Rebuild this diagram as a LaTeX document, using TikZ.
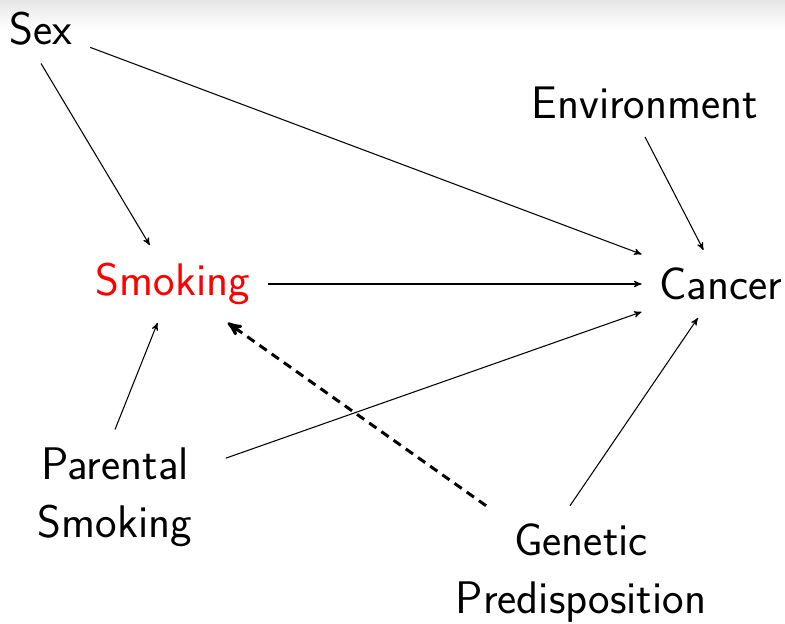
\documentclass[tikz,border=0pt]{standalone}
\usetikzlibrary{positioning,arrows}
\tikzset{
  var/.style={font=\fontsize{26}{33}\selectfont\sffamily, align=center, inner sep=10pt},
  cause/.style={->, >=stealth', line width=0.6pt, draw=black},
  hidden/.style={->, >=stealth', line width=1.7pt, dash pattern=on 5pt off 3.5pt, draw=black}
}

\begin{document}
\begin{tikzpicture}
    \useasboundingbox (0,0) rectangle (15.7,12.48);
    \shade[top color=black!10, bottom color=white] (0,11.9) rectangle (15.7,12.48);
    \node[var] (sex) at (0.82,11.9) {Sex};
    \node[var] (env) at (12.9,10.42) {Environment};
    \node[var, text=red] (smoke) at (3.46,6.8) {Smoking};
    \node[var] (cancer) at (14.42,6.8) {Cancer};
    \node[var, inner xsep=19pt] (parent) at (2.3,2.54) {Parental\\Smoking};
    \node[var] (gene) at (11.62,1.02) {Genetic\\Predisposition};
    \draw[cause] (sex.south) -- (smoke);
    \draw[cause] (sex) -- (cancer);
    \draw[cause] (env.south) -- (cancer);
    \draw[cause] (smoke) -- (cancer);
    \draw[cause] (parent.north) -- (smoke);
    \draw[cause] (parent) -- (cancer);
    \draw[cause] ([xshift=-0.22cm]gene.north) -- (cancer);
    \draw[hidden] (gene) -- (smoke);
\end{tikzpicture}
\end{document}
